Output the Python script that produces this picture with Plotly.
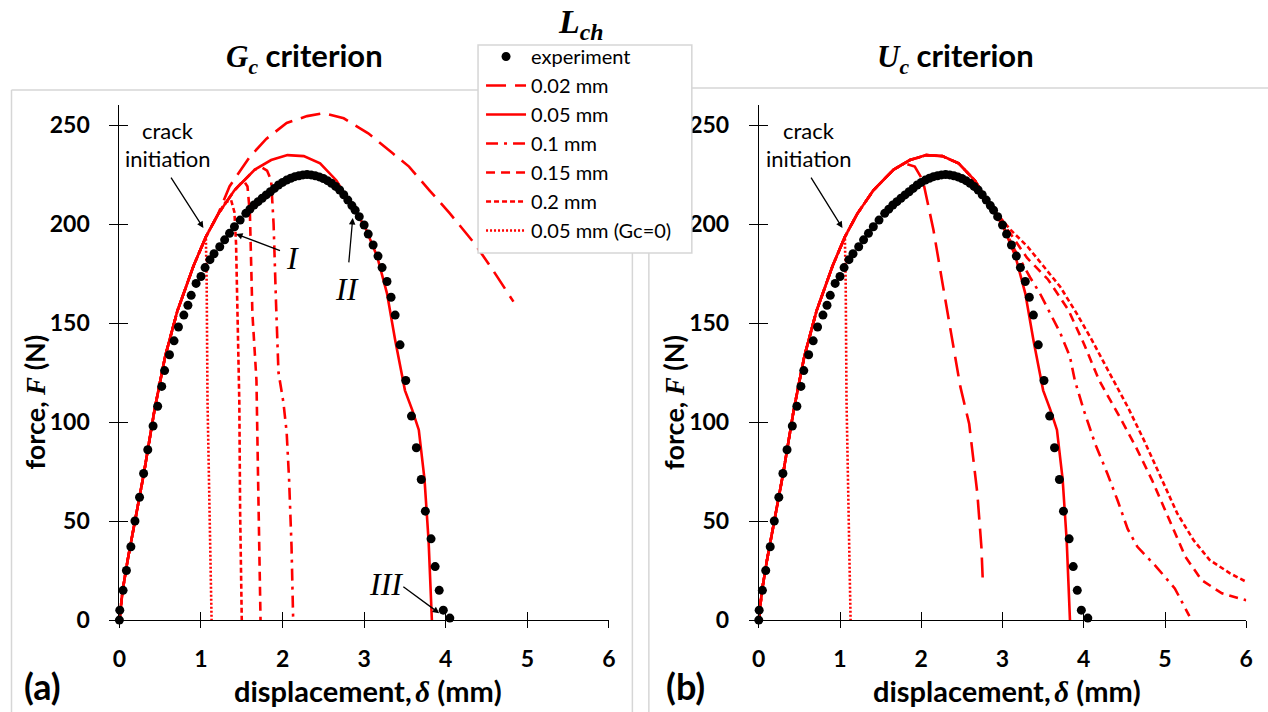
import plotly.graph_objects as go

# ---------------- data (displacement in mm, force in N) ----------------
exp_disp = [0, 0.005, 0.045, 0.086, 0.141, 0.191, 0.247, 0.297, 0.348, 0.413, 0.469, 0.519,
            0.554, 0.614, 0.67, 0.724, 0.79, 0.84, 0.88, 0.94, 1.0, 1.05, 1.11, 1.16, 1.23,
            1.29, 1.35, 1.41, 1.48, 1.55, 1.60, 1.65, 1.70, 1.75, 1.80, 1.85, 1.90, 1.95,
            2.00, 2.05, 2.10, 2.15, 2.20, 2.25, 2.30, 2.35, 2.40, 2.45, 2.50, 2.55, 2.60,
            2.65, 2.70, 2.75, 2.80, 2.85, 2.89, 2.94, 3.00, 3.05, 3.11, 3.17, 3.22, 3.28,
            3.33, 3.38, 3.44, 3.51, 3.58, 3.64, 3.70, 3.75, 3.82, 3.87, 3.92, 3.97, 4.05]
exp_force = [0, 5, 15, 25, 37, 50, 62, 74, 86, 98, 108, 118,
             126, 134, 141, 148, 154, 159, 164, 170, 173.5, 178, 182, 185, 188.5,
             192, 195.3, 198.6, 202, 205.4, 207.5, 209.6, 211.3, 213, 214.7, 216.3, 218, 219.7,
             221, 222.2, 223.1, 223.9, 224.4, 224.8, 225, 224.8, 224.4, 223.8, 223, 221.9, 220.6,
             219, 217.2, 214.8, 212.1, 209.3, 207, 203.7, 199.5, 194.9, 189.4, 183.8, 178, 171,
             163, 154, 139, 121, 103, 87, 71, 55, 41, 27, 15, 5, 1]

# L_ch = 0.05 mm (same in both criteria)
l005_disp = [0, 0.04, 0.10, 0.20, 0.30, 0.43, 0.56, 0.71, 0.91, 1.06, 1.21, 1.41, 1.66, 1.86,
             2.06, 2.26, 2.46, 2.66, 2.86, 3.01, 3.16, 3.28, 3.38, 3.50, 3.59, 3.67, 3.74,
             3.79, 3.83]
l005_force = [0, 15, 30, 52, 74, 106, 133, 156, 179, 193.5, 205, 217, 227.5, 232.3,
              234.8, 234.3, 230.6, 222, 208.7, 198.6, 183.5, 165, 141.4, 116, 106, 96, 71,
              40, 0]

# L_ch = 0.05 mm with Gc = 0 (branches off the 0.05 mm curve)
gc0_branch = 1.06
gc0_disp = [1.07, 1.08, 1.10, 1.13]
gc0_force = [170, 111, 60, 0]

# Gc criterion, remaining lengths
gc_002_branch = 1.21
gc_002_disp = [1.35, 1.60, 1.80, 2.05, 2.30, 2.50, 2.75, 3.05, 3.35, 3.55, 3.80, 4.05, 4.35, 4.55, 4.83]
gc_002_force = [219, 234, 243, 251, 254.5, 256, 253.4, 245.8, 235.7, 229, 217, 205.4, 190.3, 178.5, 160.8]

gc_01_branch = 1.66
gc_01_disp = [1.75, 1.81, 1.86, 1.89, 1.92, 1.95, 2.01, 2.05, 2.08, 2.11, 2.13]
gc_01_force = [228.5, 227, 222, 200, 160, 125, 110, 95, 71, 37, 0]

gc_015_branch = 1.41
gc_015_disp = [1.52, 1.57, 1.60, 1.63, 1.68, 1.70, 1.73]
gc_015_force = [222, 219, 205, 155, 121, 71, 0]

gc_02_branch = 1.21
gc_02_disp = [1.30, 1.37, 1.41, 1.43, 1.45, 1.47, 1.48, 1.50]
gc_02_force = [211, 212, 206, 190, 150, 110, 54, 0]

# Uc criterion, remaining lengths
uc_002_branch = 1.66
uc_002_disp = [1.80, 1.92, 2.02, 2.15, 2.27, 2.37, 2.48, 2.59, 2.69, 2.74, 2.76]
uc_002_force = [230.5, 229, 222, 197, 168, 145, 118, 99, 64, 37, 17]

uc_01_branch = 3.01
uc_01_disp = [3.15, 3.34, 3.46, 3.61, 3.71, 3.83, 3.89, 4.00, 4.14, 4.29, 4.42, 4.54, 4.66, 4.89, 5.12, 5.30]
uc_01_force = [187, 173, 165, 153, 145, 133, 121, 106, 89, 74, 60, 46, 37, 27, 16, 2]

uc_015_branch = 2.86
uc_015_disp = [3.10, 3.30, 3.56, 3.81, 4.00, 4.19, 4.44, 4.64, 4.84, 5.05, 5.25, 5.45, 5.70, 6.00]
uc_015_force = [195, 183, 172, 156.6, 139.7, 121, 102.7, 87.5, 70.7, 50.5, 32, 20.2, 13.5, 10]

uc_02_branch = 2.86
uc_02_disp = [3.10, 3.31, 3.51, 3.71, 3.91, 4.10, 4.30, 4.54, 4.74, 4.94, 5.15, 5.35, 5.55, 5.80, 6.00]
uc_02_force = [197, 188.5, 178.4, 168.3, 155, 141.4, 126, 107.7, 90.9, 72.4, 53.9, 40.4, 30.3, 23.6, 19.3]

x_ticks = [0, 1, 2, 3, 4, 5, 6]
y_ticks = [0, 50, 100, 150, 200, 250]

series_names = ["experiment", "0.02 mm", "0.05 mm", "0.1 mm", "0.15 mm", "0.2 mm", "0.05 mm (Gc=0)"]


def branch(limit, tail_d, tail_f):
    d = [v for v in l005_disp if v <= limit]
    f = l005_force[:len(d)]
    return d + tail_d, f + tail_f


RED = "#ff0000"
styles = {
    "0.02 mm": "20px,9px",
    "0.05 mm": "solid",
    "0.1 mm": "12px,6px,3px,6px",
    "0.15 mm": "9px,6px",
    "0.2 mm": "5px,3px",
    "0.05 mm (Gc=0)": "2px,2px",
}

panels = {
    "gc": [
        ("0.02 mm", branch(gc_002_branch, gc_002_disp, gc_002_force)),
        ("0.05 mm", (l005_disp, l005_force)),
        ("0.1 mm", branch(gc_01_branch, gc_01_disp, gc_01_force)),
        ("0.15 mm", branch(gc_015_branch, gc_015_disp, gc_015_force)),
        ("0.2 mm", branch(gc_02_branch, gc_02_disp, gc_02_force)),
        ("0.05 mm (Gc=0)", branch(gc0_branch, gc0_disp, gc0_force)),
    ],
    "uc": [
        ("0.02 mm", branch(uc_002_branch, uc_002_disp, uc_002_force)),
        ("0.05 mm", (l005_disp, l005_force)),
        ("0.1 mm", branch(uc_01_branch, uc_01_disp, uc_01_force)),
        ("0.15 mm", branch(uc_015_branch, uc_015_disp, uc_015_force)),
        ("0.2 mm", branch(uc_02_branch, uc_02_disp, uc_02_force)),
        ("0.05 mm (Gc=0)", branch(gc0_branch, gc0_disp, gc0_force)),
    ],
}

fig = go.Figure()

for key, xa, ya, show in [("gc", "x", "y", True), ("uc", "x2", "y2", False)]:
    for name, (d, f) in panels[key]:
        fig.add_trace(go.Scatter(
            x=d, y=f, mode="lines", name=name, xaxis=xa, yaxis=ya,
            line=dict(color=RED, width=2.6, dash=styles[name]),
            showlegend=show, legendgroup=name, legendrank=series_names.index(name) + 1,
            cliponaxis=False, hoverinfo="skip"))
    fig.add_trace(go.Scatter(
        x=exp_disp, y=exp_force, mode="markers", name="experiment", xaxis=xa, yaxis=ya,
        marker=dict(color="black", size=9, line=dict(width=0)),
        showlegend=show, legendgroup="experiment", legendrank=0,
        cliponaxis=False, hoverinfo="skip"))

# helper traces for the crossing tick marks
for xa, ya in [("x3", "y3"), ("x4", "y4")]:
    fig.add_trace(go.Scatter(x=[None], y=[None], xaxis=xa, yaxis=ya, showlegend=False,
                             hoverinfo="skip"))

# page geometry: positions below are given in target-picture pixels and mapped to the page
W, H = 1276, 726
SX, OX, SY = 0.99, 5.5, 0.982


def px(v):
    return ((v - OX) / SX) / W


def py(v):
    return 1 - (v / SY) / H


TICKFONT = dict(family="Lato", size=23, color="black", weight="bold")
ydom = [py(620), py(105.2)]
xdom_a = [px(118), px(608)]
xdom_b = [px(758), px(1246)]

common_x = dict(range=[0, 6], tickvals=x_ticks, showgrid=False, zeroline=False,
                tickcolor="black", tickwidth=1)
common_y = dict(range=[0, 260], tickvals=y_ticks, showgrid=False, zeroline=False,
                tickcolor="black", tickwidth=1)

layout_axes = {}
for xd, xn, yn, xo, yo in [(xdom_a, "x", "y", "x3", "y3"), (xdom_b, "x2", "y2", "x4", "y4")]:
    xkey = "xaxis" if xn == "x" else "xaxis2"
    ykey = "yaxis" if yn == "y" else "yaxis2"
    layout_axes[xkey] = dict(domain=xd, anchor=yn, ticks="outside", ticklen=7,
                             showline=True, linecolor="black", linewidth=1,
                             tickfont=TICKFONT, ticklabelstandoff=11, **common_x)
    layout_axes[ykey] = dict(domain=ydom, anchor=xn, ticks="outside", ticklen=9,
                             showline=True, linecolor="black", linewidth=1,
                             tickfont=TICKFONT, ticklabelstandoff=15, **common_y)
    layout_axes["xaxis" + xo[1:]] = dict(overlaying=xn, anchor=yn, ticks="inside", ticklen=8,
                                         showticklabels=False, showline=False, **common_x)
    layout_axes["yaxis" + yo[1:]] = dict(overlaying=yn, anchor=xn, ticks="inside", ticklen=9,
                                         showticklabels=False, showline=False, **common_y)

fig.update_layout(**layout_axes)

# light grey frames of the two chart areas and the legend box
BOX = "#d6d6d6"
frame = dict(type="line", xref="paper", yref="paper", line=dict(color=BOX, width=1.5), layer="below")
shapes = [
    dict(frame, x0=px(10), x1=px(10), y0=py(90), y1=0),
    dict(frame, x0=px(10), x1=px(631.5), y0=py(90), y1=py(90)),
    dict(frame, x0=px(631.5), x1=px(631.5), y0=py(90), y1=0),
    dict(frame, x0=px(648), x1=px(648), y0=py(88), y1=0),
    dict(frame, x0=px(648), x1=1, y0=py(88), y1=py(88)),
    dict(type="rect", xref="paper", yref="paper", x0=px(477), x1=px(691), y0=py(45), y1=py(253),
         line=dict(color=BOX, width=1.5), fillcolor="white", layer="above"),
]

SERIF = "Liberation Serif"
ann = []


def txt(x, y, text, size, family="Lato", angle=0, bold=True, **kw):
    ann.append(dict(xref="paper", yref="paper", x=px(x), y=py(y), text=text, showarrow=False,
                    xanchor="center", yanchor="middle", textangle=angle,
                    font=dict(family=family, size=size, color="black",
                              weight="bold" if bold else "normal"), **kw))


# legend title
txt(580, 24, "<i>L</i><sub><i>ch</i></sub>", 34, family=SERIF)
# panel titles
txt(303, 57, f"<span style='font-family:{SERIF}'><i>G</i><sub><i>c</i></sub></span> criterion", 31)
txt(955, 57, f"<span style='font-family:{SERIF}'><i>U</i><sub><i>c</i></sub></span> criterion", 31)
# axis titles
for xc in (33, 672):
    txt(xc, 402, f"force, <span style='font-family:{SERIF}'><i>F</i></span> (N)", 27, angle=-90)
for xc in (367, 1006):
    txt(xc, 690, f"displacement,\u2009<span style='font-family:{SERIF}'><i>δ</i></span> (mm)", 29)
# panel letters
txt(41, 686, "(a)", 36)
txt(685, 686, "(b)", 36)
# crack initiation labels
for xc in (166.5, 808):
    txt(xc, 130, "crack", 22, bold=False)
    txt(xc, 158, "initiation", 22, bold=False)
# roman numerals
txt(291, 258, "<i>I</i>", 32, family=SERIF, bold=False)
txt(346, 289, "<i>II</i>", 32, family=SERIF, bold=False)
txt(385, 584, "<i>III</i>", 32, family=SERIF, bold=False)

ARROW = dict(showarrow=True, arrowhead=2, arrowsize=1, arrowwidth=1.3, arrowcolor="black",
             text="", standoff=0)
arrows = [("x", "y", 1.03, 198, -33, -51), ("x2", "y2", 1.03, 198, -32, -51),
          ("x", "y", 1.43, 195, 45, 17), ("x", "y", 2.86, 203, -4, 45),
          ("x", "y", 3.92, 3.5, -37, -27)]
for xr, yr, xv, yv, axp, ayp in arrows:
    ann.append(dict(xref=xr, yref=yr, x=xv, y=yv, ax=axp / SX, ay=ayp / SY, **ARROW))

fig.update_layout(
    width=W, height=H, margin=dict(l=0, r=0, t=0, b=0),
    paper_bgcolor="white", plot_bgcolor="white",
    shapes=shapes, annotations=ann,
    legend=dict(x=px(480), y=py(37), xanchor="left", yanchor="top",
                borderwidth=0, bgcolor="rgba(0,0,0,0)",
                font=dict(family="Lato", size=20, color="black"),
                tracegroupgap=0, itemwidth=40, traceorder="normal"),
    font=dict(family="Lato", color="black"),
)

fig.write_html(
    "out.html",
    config={"displayModeBar": False},
    post_script="document.body.style.margin='0';document.body.style.overflow='hidden';",
)
